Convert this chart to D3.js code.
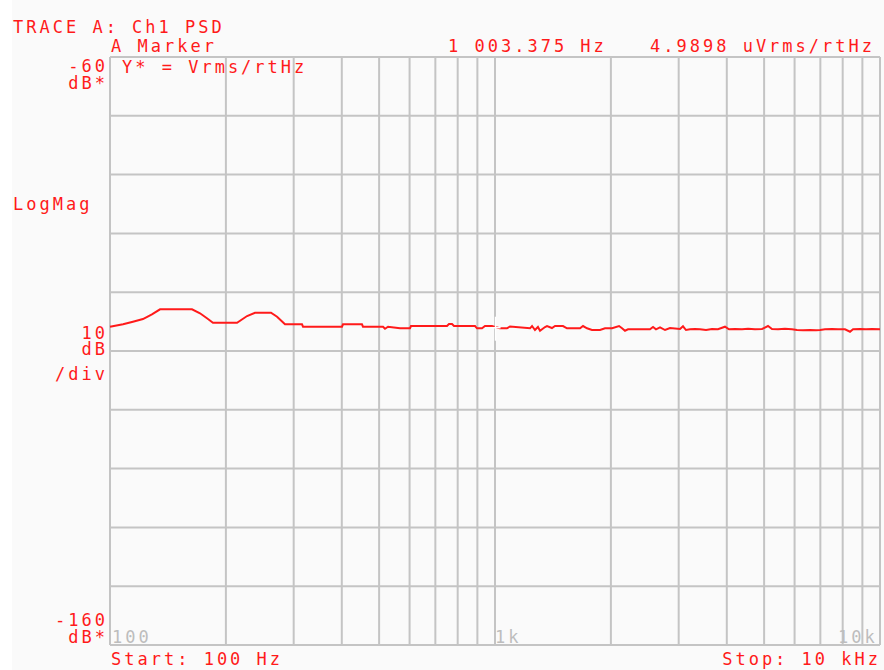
<!DOCTYPE html>
<html>
<head>
<meta charset="utf-8">
<script src="https://cdn.jsdelivr.net/npm/d3@7"></script>
<style>
  body { margin: 0; background: #fafafa; }
  svg text { font-family: "DejaVu Sans Mono", monospace; font-size: 17px; letter-spacing: 3px; }
</style>
</head>
<body>
<div id="chart"></div>
<script>
window.w = 884;
window.h = 670;

// trace values (Hz, dB Vrms/rtHz)
const freqs = [100, 108.1, 114.7, 121.8, 128.5, 134.9, 163.3, 171.3, 178.6, 185.1,
  213.8, 227.0, 238.0, 261.9, 271.6, 284.8, 315.3, 317.2, 400.5, 402.9,
  451.3, 454.0, 511.9, 518.0, 527.4, 566.6, 601.5, 605, 750.5, 759.5,
  773.3, 782.6, 887.3, 898, 925.2, 941.9, 982.2, 1000, 1030, 1074,
  1094, 1233, 1248, 1270, 1293, 1309, 1349, 1365, 1406, 1432,
  1502, 1538, 1663, 1693, 1734, 1786, 1874, 1931, 2014, 2100,
  2138, 2176, 2216, 2351, 2527, 2573, 2619, 2683, 2765, 2848,
  3024, 3078, 3134, 3210, 3307, 3408, 3533, 3661, 3795, 3957,
  4053, 4201, 4382, 4542, 4735, 4938, 5118, 5242, 5434, 5665,
  5907, 6087, 6310, 6579, 6822, 6987, 7197, 7505, 7779, 8111,
  8358, 8511, 8875, 9197, 9533, 10000];
const magDb = [-105.87, -105.46, -105.02, -104.56, -103.76, -102.91, -102.91, -103.59, -104.44, -105.19,
  -105.19, -104.05, -103.49, -103.49, -104.17, -105.46, -105.46, -105.87, -105.87, -105.46,
  -105.46, -105.87, -105.87, -106.21, -105.87, -106.14, -106.14, -105.75, -105.75, -105.41,
  -105.41, -105.75, -105.75, -106.14, -106.14, -105.75, -105.75, -105.92, -106.14, -106.14,
  -105.83, -106.14, -105.75, -106.43, -105.92, -106.55, -105.92, -105.75, -106.09, -105.75,
  -105.75, -106.14, -106.14, -105.75, -106.14, -106.43, -106.43, -106.14, -106.14, -105.75,
  -106.14, -106.55, -106.31, -106.31, -106.31, -105.92, -106.31, -105.97, -106.43, -106.09,
  -106.26, -105.80, -106.43, -106.31, -106.26, -106.31, -106.43, -106.26, -106.31, -105.87,
  -106.31, -106.26, -106.31, -106.21, -106.31, -106.26, -105.75, -106.26, -106.31, -106.21,
  -106.31, -106.43, -106.48, -106.43, -106.48, -106.43, -106.31, -106.26, -106.31, -106.31,
  -106.72, -106.31, -106.26, -106.31, -106.26, -106.31];

const xGrid = [100, 200, 300, 400, 500, 600, 700, 800, 900,
  1000, 2000, 3000, 4000, 5000, 6000, 7000, 8000, 9000, 10000];
const yGrid = [-160, -150, -140, -130, -120, -110, -100, -90, -80, -70, -60];
const xLabels = [{f: 100, t: "100"}, {f: 1000, t: "1k"}, {f: 10000, t: "10k"}];

const markerFreq = 1003.375;
const markerDb = -106.04;

const plotLeft = 110, plotRight = 880, plotTop = 57, plotBottom = 645;
const red = "#ff1a1a";
const gridColor = "#c4c4c4";

const chart = d3.select("#chart")
  .append("svg")
  .attr("width", w)
  .attr("height", h);

chart.append("rect").attr("width", w).attr("height", h).attr("fill", "#fafafa");
chart.append("rect").attr("width", 12).attr("height", h).attr("fill", "#ffffff");

const xScale = d3.scaleLog()
  .domain([100, 10000])
  .range([plotLeft, plotRight]);

const yScale = d3.scaleLinear()
  .domain([-160, -60])
  .range([plotBottom, plotTop]);

// grid
chart.append("g")
  .selectAll("line")
  .data(xGrid)
  .join("line")
  .attr("x1", d => xScale(d)).attr("x2", d => xScale(d))
  .attr("y1", plotTop).attr("y2", plotBottom)
  .attr("stroke", gridColor)
  .attr("stroke-width", 2);

chart.append("g")
  .selectAll("line")
  .data(yGrid)
  .join("line")
  .attr("x1", plotLeft).attr("x2", plotRight)
  .attr("y1", d => yScale(d)).attr("y2", d => yScale(d))
  .attr("stroke", gridColor)
  .attr("stroke-width", 2);

// gray frequency labels inside the plot
chart.append("g")
  .selectAll("text")
  .data(xLabels)
  .join("text")
  .attr("x", d => xScale(d.f) + (d.f === 100 ? 2 : (d.f === 10000 ? -42 : 0)))
  .attr("y", plotBottom - 2)
  .attr("fill", "#bdbdbd")
  .text(d => d.t);

// trace
const trace = freqs.map((f, i) => [f, magDb[i]]);
chart.append("path")
  .datum(trace)
  .attr("fill", "none")
  .attr("stroke", red)
  .attr("stroke-width", 2)
  .attr("d", d3.line()
    .x(d => xScale(d[0]))
    .y(d => yScale(d[1]))
  );

// marker cross
const mx = xScale(markerFreq), my = yScale(markerDb);
chart.append("line")
  .attr("x1", mx).attr("x2", mx)
  .attr("y1", my - 11).attr("y2", my + 13)
  .attr("stroke", "#ffffff").attr("stroke-width", 1.5);
chart.append("line")
  .attr("x1", mx - 5).attr("x2", mx + 5)
  .attr("y1", my).attr("y2", my)
  .attr("stroke", "#ffffff").attr("stroke-width", 1.5);

// red texts
function label(txt, x, y, anchor) {
  chart.append("text")
    .attr("x", anchor === "end" ? x + 3 : x)
    .attr("y", y)
    .attr("fill", red)
    .attr("text-anchor", anchor || "start")
    .text(txt);
}

label("TRACE A: Ch1 PSD", 13, 33);
label("A Marker", 111, 52);
label("1 003.375 Hz", 448, 52);
label("4.9898 uVrms/rtHz", 650, 52);
label("Y* = Vrms/rtHz", 122, 73);
label("-60", 105, 72, "end");
label("dB*", 105, 89, "end");
label("LogMag", 13, 210);
label("10", 105, 339, "end");
label("dB", 105, 355, "end");
label("/div", 105, 380, "end");
label("-160", 105, 626, "end");
label("dB*", 105, 643, "end");
label("Start: 100 Hz", 111, 665);
label("Stop: 10 kHz", 878, 665, "end");
</script>
</body>
</html>
